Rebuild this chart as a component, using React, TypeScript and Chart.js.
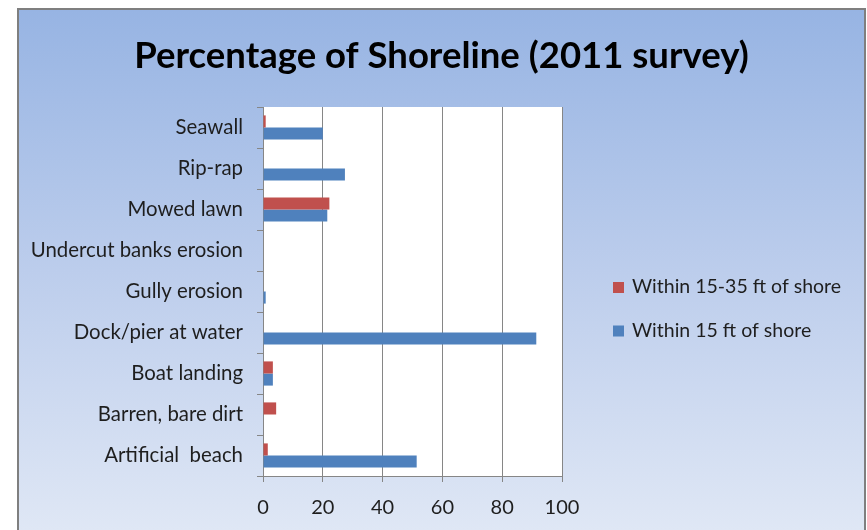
import React, { useEffect, useRef } from 'react';
import { Chart, registerables } from 'chart.js';

Chart.register(...registerables);

// Shoreline feature categories, listed top to bottom
const categories = [
  'Seawall',
  'Rip-rap',
  'Mowed lawn',
  'Undercut banks erosion',
  'Gully erosion',
  'Dock/pier at water',
  'Boat landing',
  'Barren, bare dirt',
  'Artificial  beach',
];

// Percent of shoreline, by distance from the water
const within15to35ft = [0.9, 0, 22.2, 0, 0, 0, 3.3, 4.4, 1.6];
const within15ft = [20, 27.4, 21.5, 0, 0.9, 91.4, 3.3, 0, 51.4];

const seriesNames = ['Within 15-35 ft of shore', 'Within 15 ft of shore'];
const seriesColors = ['#C0504D', '#4F81BD'];

const xMin = 0;
const xMax = 100;
const xStep = 20;

const titleText = 'Percentage of Shoreline (2011 survey)';

const FONT = 'Lato, "Open Sans", "DejaVu Sans", sans-serif';
const TEXT_COLOR = '#1e1e1e';
const AXIS_GRAY = '#868686';

// White fill behind the plotting region
const plotBackground = {
  id: 'plotBackground',
  beforeDraw(chart: any) {
    const { ctx, chartArea } = chart;
    ctx.save();
    ctx.fillStyle = '#ffffff';
    ctx.fillRect(chartArea.left, chartArea.top, chartArea.right - chartArea.left, chartArea.bottom - chartArea.top);
    ctx.restore();
  },
};

// Title centred across the whole canvas
const centeredTitle = {
  id: 'centeredTitle',
  afterDraw(chart: any) {
    const { ctx, width } = chart;
    ctx.save();
    ctx.font = `bold 36.5px ${FONT}`;
    ctx.fillStyle = '#000000';
    ctx.textAlign = 'center';
    ctx.textBaseline = 'alphabetic';
    ctx.fillText(titleText, width / 2, 58);
    ctx.restore();
  },
};

// Legend drawn to the right of the plot, one row per series
const sideLegend = {
  id: 'sideLegend',
  afterDraw(chart: any) {
    const { ctx, chartArea } = chart;
    const boxX = chartArea.right + 51;
    const firstBaseline = 283;
    const rowGap = 43.5;
    const box = 11;
    ctx.save();
    ctx.font = `19.5px ${FONT}`;
    ctx.textBaseline = 'alphabetic';
    ctx.textAlign = 'left';
    chart.data.datasets.forEach((ds: any, i: number) => {
      const base = firstBaseline + i * rowGap;
      ctx.fillStyle = ds.backgroundColor;
      ctx.fillRect(boxX, base - box, box, box);
      ctx.fillStyle = TEXT_COLOR;
      ctx.fillText(ds.label, boxX + 19, base);
    });
    ctx.restore();
  },
};

function ShorelineChart() {
  const canvasRef = useRef<HTMLCanvasElement | null>(null);

  useEffect(() => {
    if (!canvasRef.current) return;
    const chart = new Chart(canvasRef.current, {
      type: 'bar',
      data: {
        labels: categories,
        datasets: [
          {
            label: seriesNames[0],
            data: within15to35ft,
            backgroundColor: seriesColors[0],
            borderWidth: 0,
          },
          {
            label: seriesNames[1],
            data: within15ft,
            backgroundColor: seriesColors[1],
            borderWidth: 0,
          },
        ],
      },
      options: {
        indexAxis: 'y',
        animation: false,
        responsive: false,
        devicePixelRatio: 1,
        layout: { padding: { left: 0, right: 302, top: 97, bottom: 0 } },
        datasets: {
          bar: { categoryPercentage: 0.59, barPercentage: 1 },
        },
        scales: {
          x: {
            min: xMin,
            max: xMax,
            ticks: {
              stepSize: xStep,
              color: TEXT_COLOR,
              font: { family: FONT, size: 20 },
              padding: 14,
            },
            grid: {
              color: AXIS_GRAY,
              lineWidth: 1,
              drawTicks: true,
              tickLength: 6,
              tickColor: AXIS_GRAY,
            },
            border: { display: true, color: AXIS_GRAY, width: 1 },
            afterFit(scale: any) {
              scale.height = 54;
            },
          },
          y: {
            ticks: {
              color: TEXT_COLOR,
              font: { family: FONT, size: 20.4 },
              padding: 14,
              autoSkip: false,
            },
            grid: {
              drawOnChartArea: false,
              drawTicks: true,
              tickLength: 6,
              tickColor: AXIS_GRAY,
            },
            border: { display: true, color: AXIS_GRAY, width: 1 },
            afterFit(scale: any) {
              scale.width = 244;
            },
          },
        },
        plugins: {
          legend: { display: false },
          tooltip: { enabled: false },
          title: { display: false },
        },
      },
      plugins: [plotBackground, centeredTitle, sideLegend],
    } as any);
    return () => chart.destroy();
  }, []);

  return <canvas ref={canvasRef} width={845} height={520} style={{ display: 'block' }} />;
}

export default function App() {
  return (
    <div
      style={{
        position: 'fixed',
        left: 17,
        top: 8,
        width: 849,
        height: 522,
        boxSizing: 'border-box',
        borderTop: '2px solid #7f7f7f',
        borderLeft: '2px solid #7f7f7f',
        borderRight: '2px solid #7f7f7f',
        background: 'linear-gradient(to bottom, #97b4e3 0%, #bccdec 50%, #dfe7f5 100%)',
        overflow: 'hidden',
      }}
    >
      <ShorelineChart />
    </div>
  );
}
